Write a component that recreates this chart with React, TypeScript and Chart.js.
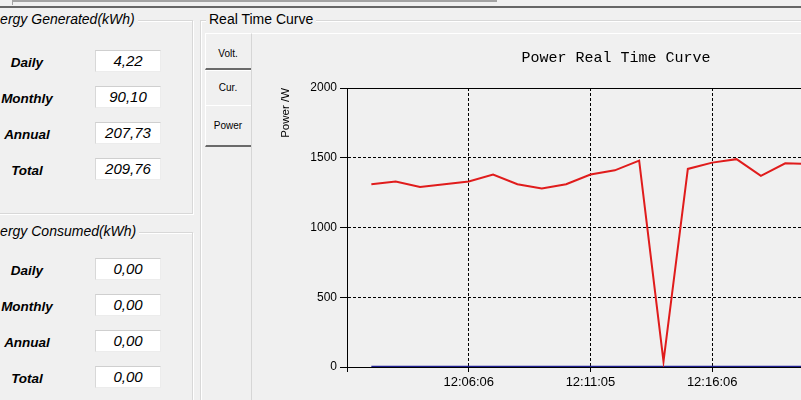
import React, { useEffect, useRef } from "react";
import { Chart, registerables } from "chart.js";

Chart.register(...registerables);

// ---- data ----
const minuteIndex = [0, 1, 2, 3, 4, 5, 6, 7, 8, 9, 10, 11, 12, 13, 14, 15, 16, 17, 18];
const powerValues = [1310, 1330, 1290, 1310, 1330, 1380, 1310, 1280, 1310, 1380, 1410, 1480, 40, 1420, 1465, 1490, 1370, 1460, 1455];
const baseValues = [0, 0, 0, 0, 0, 0, 0, 0, 0, 0, 0, 0, 0, 0, 0, 0, 0, 0, 0];
const xTickIndices = [-1, 4, 9, 14];
const xTickLabels = ["", "12:06:06", "12:11:05", "12:16:06"];
const yTickValues = [0, 500, 1000, 1500, 2000];

const rowLabels = ["Daily", "Monthly", "Annual", "Total"];
const generatedValues = ["4,22", "90,10", "207,73", "209,76"];
const consumedValues = ["0,00", "0,00", "0,00", "0,00"];
const tabLabels = ["Volt.", "Cur.", "Power"];

const BG = "#f0f0f0";
const SANS = "'Liberation Sans', Arial, sans-serif";

function PowerChart() {
  const ref = useRef<HTMLCanvasElement | null>(null);
  useEffect(() => {
    if (!ref.current) return;
    const chart = new Chart(ref.current, {
      type: "line",
      data: {
        datasets: [
          {
            label: "Power",
            data: minuteIndex.map((x, i) => ({ x, y: powerValues[i] })),
            borderColor: "#e01c1c",
            borderWidth: 2,
            pointRadius: 0,
            tension: 0,
          },
          {
            label: "Base",
            data: minuteIndex.map((x, i) => ({ x, y: baseValues[i] })),
            borderColor: "#1e1e90",
            borderWidth: 2.5,
            pointRadius: 0,
            tension: 0,
          },
        ],
      },
      options: {
        animation: false,
        responsive: false,
        maintainAspectRatio: false,
        layout: { padding: { left: 0, right: 2, top: 0, bottom: 0 } },
        plugins: {
          legend: { display: false },
          tooltip: { enabled: false },
          title: {
            display: true,
            text: "Power Real Time Curve",
            color: "#000",
            font: { family: "'Liberation Mono', monospace", size: 15, weight: "normal" },
            padding: { top: 15, bottom: 21 },
          },
        },
        scales: {
          x: {
            type: "linear",
            position: "bottom",
            min: -1,
            max: 25,
            afterBuildTicks: (s: any) => {
              s.ticks = xTickIndices.map((v) => ({ value: v }));
            },
            afterFit: (s: any) => {
              s.height = 33;
            },
            ticks: {
              autoSkip: false,
              maxRotation: 0,
              padding: 3,
              color: "#000",
              font: { family: SANS, size: 13 },
              callback: (v: any) => {
                const i = xTickIndices.indexOf(Number(v));
                return i >= 0 ? xTickLabels[i] : "";
              },
            },
            grid: {
              color: "#000",
              lineWidth: 1,
              tickBorderDash: [],
              tickLength: 5,
              tickColor: "#000",
            } as any,
            border: { color: "#000", width: 1, dash: [3, 2] },
          },
          xTop: {
            type: "linear",
            position: "top",
            min: -1,
            max: 25,
            ticks: { display: false },
            grid: { display: false },
            border: { color: "#000", width: 1 },
            afterFit: (s: any) => {
              s.height = 0;
            },
          },
          y: {
            min: 0,
            max: 2000,
            afterBuildTicks: (s: any) => {
              s.ticks = yTickValues.map((v) => ({ value: v }));
            },
            afterFit: (s: any) => {
              s.width = 95;
            },
            ticks: {
              padding: 3,
              color: "#000",
              font: { family: SANS, size: 12 },
              callback: (v: any) => String(v),
            },
            grid: {
              color: "#000",
              lineWidth: 1,
              tickBorderDash: [],
              tickLength: 7,
              tickColor: "#000",
            } as any,
            border: { color: "#000", width: 1, dash: [3, 2] },
            title: {
              display: true,
              text: "Power /W",
              align: "end",
              color: "#000",
              font: { family: SANS, size: 11.5 },
              padding: { top: 27, bottom: 0 },
            },
          },
        },
      },
    });
    return () => chart.destroy();
  }, []);
  return (
    <canvas
      ref={ref}
      width={730}
      height={366}
      style={{ position: "absolute", left: 252, top: 34, width: 730, height: 366 }}
    />
  );
}

function GroupBox({ left, top, width, height }: { left: number; top: number; width: number; height: number }) {
  return (
    <div
      style={{
        position: "absolute",
        left,
        top,
        width,
        height,
        border: "1px solid #d8d8d8",
        boxShadow: "1px 1px 0 #ffffff, inset 1px 1px 0 #ffffff",
        boxSizing: "border-box",
      }}
    />
  );
}

function Legend({ left, top, text, italic }: { left: number; top: number; text: string; italic?: boolean }) {
  return (
    <div
      style={{
        position: "absolute",
        left,
        top,
        fontSize: 14,
        lineHeight: "17px",
        fontStyle: italic ? "italic" : "normal",
        background: BG,
        padding: "0 3px",
        whiteSpace: "nowrap",
        color: "#000",
      }}
    >
      {text}
    </div>
  );
}

function Rows({ firstCenter, values }: { firstCenter: number; values: string[] }) {
  return (
    <>
      {rowLabels.map((lab, i) => {
        const c = firstCenter + i * 36;
        return (
          <React.Fragment key={lab}>
            <div
              style={{
                position: "absolute",
                left: 0,
                width: 54,
                top: c - 9,
                height: 18,
                lineHeight: "18px",
                textAlign: "center",
                fontWeight: "bold",
                fontStyle: "italic",
                fontSize: 13.5,
                color: "#000",
              }}
            >
              {lab}
            </div>
            <div
              style={{
                position: "absolute",
                left: 95,
                top: c - 13,
                width: 66,
                height: 22,
                boxSizing: "border-box",
                background: "#fff",
                borderTop: "1px solid #cfcfcf",
                borderLeft: "1px solid #d8d8d8",
                borderRight: "1px solid #ececec",
                borderBottom: "1px solid #ececec",
                textAlign: "center",
                fontStyle: "italic",
                fontSize: 15,
                lineHeight: "20px",
                color: "#000",
              }}
            >
              {values[i]}
            </div>
          </React.Fragment>
        );
      })}
    </>
  );
}

function Tabs() {
  const tops = [33, 70, 105];
  const heights = [37, 35, 42];
  const centers = [54, 88, 126];
  return (
    <>
      {tabLabels.map((t, i) => (
        <React.Fragment key={t}>
          <div
            style={{
              position: "absolute",
              left: 205,
              top: tops[i],
              width: 46,
              height: heights[i],
              boxSizing: "border-box",
              borderTop: "1px solid #ffffff",
              borderLeft: "1px solid #ffffff",
              borderBottom: i === 1 ? "none" : "2px solid #6a6a6a",
              background: BG,
            }}
          />
          <div
            style={{
              position: "absolute",
              left: 205,
              width: 46,
              top: centers[i] - 7,
              height: 14,
              lineHeight: "14px",
              textAlign: "center",
              fontSize: 10,
              color: "#000",
            }}
          >
            {t}
          </div>
        </React.Fragment>
      ))}
    </>
  );
}

export default function App() {
  return (
    <div
      style={{
        position: "fixed",
        left: 0,
        top: 0,
        width: 801,
        height: 400,
        overflow: "hidden",
        background: BG,
        fontFamily: SANS,
      }}
    >
      {/* top strip */}
      <div style={{ position: "absolute", left: 12, top: 0, width: 485, height: 2, background: "#a3a3a3" }} />
      <div style={{ position: "absolute", left: 12, top: 0, width: 1, height: 5, background: "#a3a3a3" }} />
      <div style={{ position: "absolute", left: 0, top: 6, width: 801, height: 2, background: "#666666" }} />

      {/* left group boxes */}
      <GroupBox left={-10} top={20} width={203} height={194} />
      <Legend left={-20} top={11} text="Energy Generated(kWh)" italic />
      <Rows firstCenter={63} values={generatedValues} />

      <GroupBox left={-10} top={232} width={203} height={220} />
      <Legend left={-20} top={223} text="Energy Consumed(kWh)" italic />
      <Rows firstCenter={271} values={consumedValues} />

      {/* real time curve group */}
      <GroupBox left={200} top={20} width={700} height={450} />
      <Legend left={206} top={11} text="Real Time Curve" />

      {/* tab panel */}
      <div
        style={{
          position: "absolute",
          left: 251,
          top: 33,
          width: 700,
          height: 450,
          boxSizing: "border-box",
          borderLeft: "1px solid #d6d6d6",
          borderTop: "1px solid #ffffff",
          background: BG,
        }}
      />
      <Tabs />
      <PowerChart />
    </div>
  );
}
